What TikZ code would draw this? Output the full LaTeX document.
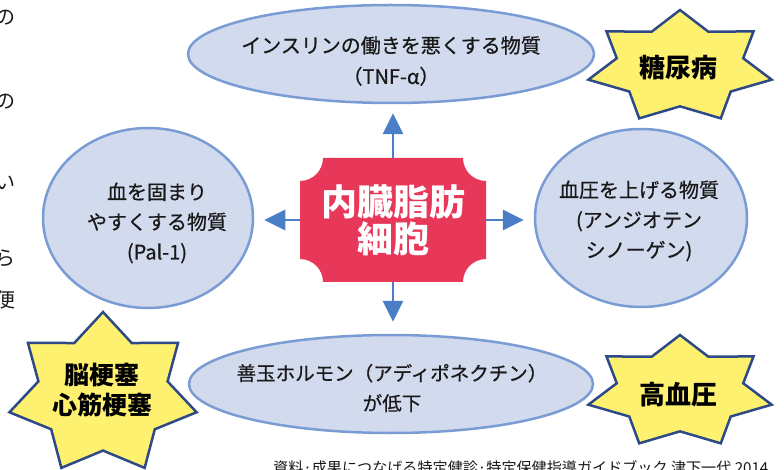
\documentclass[tikz,border=0pt]{standalone}
\usepackage{fontspec}
\setmainfont{Noto Sans CJK JP}
\newfontfamily\medfont{Noto Sans CJK JP}[FakeBold=0.6]
\usetikzlibrary{arrows.meta,shapes.geometric}
\definecolor{ellfill}{RGB}{210,218,238}
\definecolor{elldraw}{RGB}{122,156,212}
\definecolor{starfill}{RGB}{255,241,112}
\definecolor{stardraw}{RGB}{46,74,134}
\definecolor{plaquefill}{RGB}{232,56,90}
\definecolor{arrowblue}{RGB}{74,126,198}
\definecolor{txt}{RGB}{25,25,25}
\newcommand\sevenstar[4]{%
  \draw[starsty] plot[variable=\k, samples at={0,1,...,13}]
    ({#1+#3*ifthenelse(mod(\k,2)==0,1,0.69)*cos(90-\k*360/14)},
     {#2-#4*ifthenelse(mod(\k,2)==0,1,0.69)*sin(90-\k*360/14)}) -- cycle;}
\begin{document}
\begin{tikzpicture}[x=1pt,y=-1pt,
  ellsty/.style={ellipse, draw=elldraw, fill=ellfill, line width=2.5pt, inner sep=0pt},
  starsty/.style={draw=stardraw, fill=starfill, line width=2.5pt, line join=miter},
  elltext/.style={align=center, font=\medfont\fontsize{20}{31}\selectfont, text=txt, inner sep=0pt},
  startext/.style={align=center, font=\fontsize{26}{30}\selectfont\bfseries, text=black, inner sep=0pt},
  celltext/.style={align=center, font=\fontsize{36}{37}\selectfont\bfseries, text=white, inner sep=0pt},
  arr/.style={draw=arrowblue, line width=2.8pt, -{Triangle[length=21pt,width=20pt]}, shorten >=10pt},
  edgechar/.style={anchor=base east, font=\fontsize{20}{24}\selectfont, text=txt, inner sep=0pt}
]
\useasboundingbox (0,0) rectangle (784,470);
\clip (0,0) rectangle (784,470);

% cut-off characters at the left edge (cut in the reference too)
\node[edgechar] (c1) at (15.6,24.6) {の};
\node[edgechar] (c2) at (15.6,108.6) {の};
\node[edgechar] (c3) at (15.6,189.6) {い};
\node[edgechar] (c4) at (15.6,265.6) {ら};
\node[edgechar] (c5) at (15.6,307.6) {便};

% ellipses
\node[ellsty, minimum width=406pt, minimum height=98pt] (top) at (391,54) {};
\node[elltext] (toptext) at (391,61) {インスリンの働きを悪くする物質\\（TNF-α）};

\node[ellsty, minimum width=210pt, minimum height=180pt] (left) at (148,218) {};
\node[elltext, font=\medfont\fontsize{20}{30}\selectfont] (lefttext) at (157,223) {血を固まり\\やすくする物質\\(Pal-1)};

\node[ellsty, minimum width=212pt, minimum height=178pt] (right) at (641,218) {};
\node[elltext, font=\medfont\fontsize{20}{30}\selectfont] (righttext) at (639,221) {血圧を上げる物質\\(アンジオテン\\シノーゲン)};

\node[ellsty, minimum width=404pt, minimum height=98pt] (bottom) at (391,384) {};
\node[elltext, font=\medfont\fontsize{19.5}{30}\selectfont] (bottomtext) at (392,388) {善玉ホルモン（アディポネクチン）\\が低下};

% stars
\sevenstar{680}{67}{94}{57}
\node[startext] (s1) at (678,68) {糖尿病};
\sevenstar{680}{392}{94}{57}
\node[startext] (s2) at (678,395) {高血圧};
\sevenstar{103}{394}{96}{82}
\node[startext, font=\fontsize{25}{30}\selectfont\bfseries] (s3) at (102,390) {脳梗塞\\心筋梗塞};

% central plaque
\fill[plaquefill] (323,158) -- (463,158) arc[start angle=180, end angle=90, radius=23]
  -- (486,259) arc[start angle=270, end angle=180, radius=23]
  -- (323,282) arc[start angle=0, end angle=-90, radius=23]
  -- (300,181) arc[start angle=90, end angle=0, radius=23] -- cycle;
\node[celltext, minimum width=186pt, minimum height=124pt] (cell) at (393,220) {内臓脂肪\\細胞};

% arrows
\draw[arr, shorten >=9pt] (cell.north) -- (cell.north |- top.south);
\draw[arr, shorten >=12pt] (cell.south) -- (cell.south |- bottom.north);
\draw[arr] (cell.west) -- (cell.west -| left.east);
\draw[arr] (cell.east) -- (cell.east -| right.west);

% source note (cut at the bottom)
\node[anchor=base west, inner sep=0pt, font=\fontsize{15.1}{18}\selectfont, text=txt] (src) at (273,473)
  {資料·成果につなげる特定健診·特定保健指導ガイドブック 津下一代 2014};
\end{tikzpicture}
\end{document}
